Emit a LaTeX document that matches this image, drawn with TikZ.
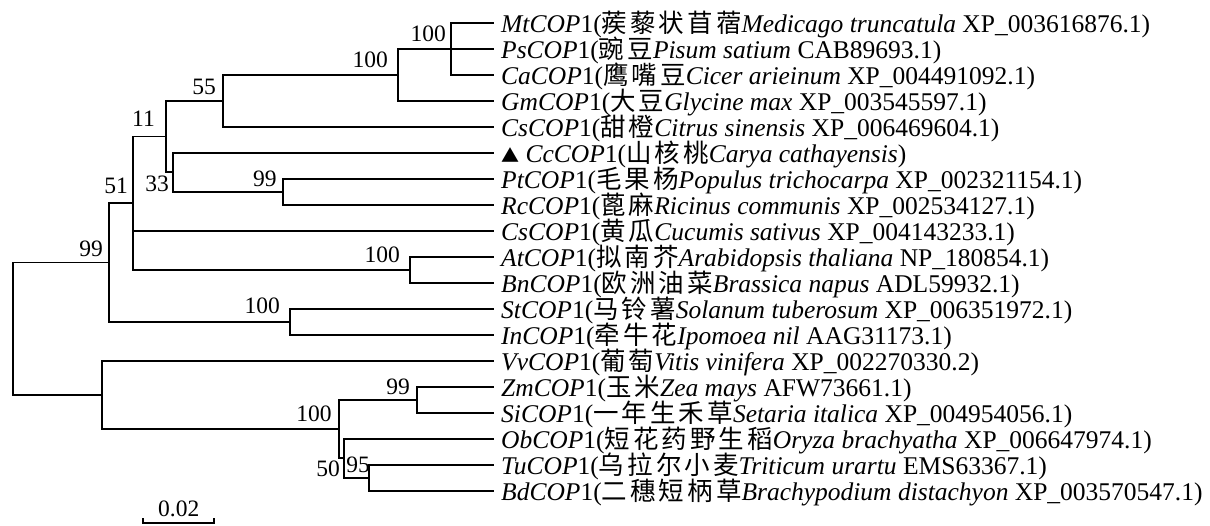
\documentclass[tikz,border=0pt]{standalone}
\usepackage{fontspec}
\setmainfont{Liberation Serif}
\newfontfamily\cjkfont[LetterSpace=12]{Noto Sans CJK SC}
\newcommand{\zh}[1]{{\cjkfont #1}}
\begin{document}
\begin{tikzpicture}[x=1pt,y=-1pt,
  br/.style={line width=1.7pt, line cap=rect},
  tiplab/.style={anchor=base west, inner sep=0pt, font=\fontsize{25.5}{28}\selectfont},
  boot/.style={anchor=base east, inner sep=0pt, font=\fontsize{23.5}{26}\selectfont}]
\useasboundingbox (0,0) rectangle (1210,526);
% tips
\def\TX{493}
\coordinate (tMt) at (\TX,22.7);
\coordinate (tPs) at (\TX,48.7);
\coordinate (tCa) at (\TX,74.7);
\coordinate (tGm) at (\TX,100.7);
\coordinate (tCs) at (\TX,126.7);
\coordinate (tCc) at (\TX,152.7);
\coordinate (tPt) at (\TX,178.7);
\coordinate (tRc) at (\TX,204.7);
\coordinate (tCu) at (\TX,230.7);
\coordinate (tAt) at (\TX,256.7);
\coordinate (tBn) at (\TX,282.7);
\coordinate (tSt) at (\TX,308.7);
\coordinate (tIn) at (\TX,334.7);
\coordinate (tVv) at (\TX,360.7);
\coordinate (tZm) at (\TX,386.7);
\coordinate (tSi) at (\TX,412.7);
\coordinate (tOb) at (\TX,438.7);
\coordinate (tTu) at (\TX,464.7);
\coordinate (tBd) at (\TX,490.7);
% internal nodes
\coordinate (n1) at (450.7,48.7);
\coordinate (n2) at (398.3,74.7);
\coordinate (n3) at (222.7,100.7);
\coordinate (n4) at (283.3,191.7);
\coordinate (n5) at (172.7,172.2);
\coordinate (n6) at (166,136.4);
\coordinate (n7) at (410,269.7);
\coordinate (n8) at (133.3,203);
\coordinate (n9) at (290,321.7);
\coordinate (n10) at (109,262.4);
\coordinate (n11) at (416.7,399.7);
\coordinate (n12) at (369,477.7);
\coordinate (n13) at (344.3,458.2);
\coordinate (n14) at (339.3,428.9);
\coordinate (n15) at (101.7,394.8);
\coordinate (root) at (12.7,328.6);
% branches
\draw[br] (n1) |- (tMt); \draw[br] (n1) -- (tPs); \draw[br] (n1) |- (tCa);
\draw[br] (n2) |- (n1); \draw[br] (n2) |- (tGm);
\draw[br] (n3) |- (n2); \draw[br] (n3) |- (tCs);
\draw[br] (n4) |- (tPt); \draw[br] (n4) |- (tRc);
\draw[br] (n5) |- (tCc); \draw[br] (n5) |- (n4);
\draw[br] (n6) |- (n3); \draw[br] (n6) |- (n5);
\draw[br] (n7) |- (tAt); \draw[br] (n7) |- (tBn);
\draw[br] (n8) |- (n6); \draw[br] (n8) |- (tCu); \draw[br] (n8) |- (n7);
\draw[br] (n9) |- (tSt); \draw[br] (n9) |- (tIn);
\draw[br] (n10) |- (n8); \draw[br] (n10) |- (n9);
\draw[br] (n11) |- (tZm); \draw[br] (n11) |- (tSi);
\draw[br] (n12) |- (tTu); \draw[br] (n12) |- (tBd);
\draw[br] (n13) |- (tOb); \draw[br] (n13) |- (n12);
\draw[br] (n14) |- (n11); \draw[br] (n14) |- (n13);
\draw[br] (n15) |- (tVv); \draw[br] (n15) |- (n14);
\draw[br] (root) |- (n10); \draw[br] (root) |- (n15);
% bootstrap values
\node[boot] (b1) at (446,41.7) {100};
\node[boot] (b2) at (388,68) {100};
\node[boot] (b3) at (216,95) {55};
\node[boot] (b6) at (155,127) {11};
\node[boot] (b5) at (169,191.7) {33};
\node[boot] (b4) at (276.7,186.7) {99};
\node[boot] (b8) at (128,194) {51};
\node[boot] (b10) at (103,256.7) {99};
\node[boot] (b7) at (400,263) {100};
\node[boot] (b9) at (280,314) {100};
\node[boot] (b11) at (410,395) {99};
\node[boot] (b14) at (331.7,421.7) {100};
\node[boot] (b13) at (340,476.7) {50};
\node[boot] (b12) at (370,472.7) {95};
% tip labels
\def\DY{9.5}
\node[tiplab] (lMt) at (501,22.7+\DY) {\textit{MtCOP}1(\zh{蒺藜状苜蓿}\textit{Medicago truncatula} XP\_003616876.1)};
\node[tiplab] (lPs) at (501,48.7+\DY) {\textit{PsCOP}1(\zh{豌豆}\textit{Pisum satium} CAB89693.1)};
\node[tiplab] (lCa) at (501,74.7+\DY) {\textit{CaCOP}1(\zh{鹰嘴豆}\textit{Cicer arieinum} XP\_004491092.1)};
\node[tiplab] (lGm) at (501,100.7+\DY) {\textit{GmCOP}1(\zh{大豆}\textit{Glycine max} XP\_003545597.1)};
\node[tiplab] (lCs) at (501,126.7+\DY) {\textit{CsCOP}1(\zh{甜橙}\textit{Citrus sinensis} XP\_006469604.1)};
\node[tiplab] (lCc) at (501,152.7+\DY) {{\cjkfont\fontsize{18}{20}\selectfont ▲} \textit{CcCOP}1(\zh{山核桃}\textit{Carya cathayensis})};
\node[tiplab] (lPt) at (501,178.7+\DY) {\textit{PtCOP}1(\zh{毛果杨}\textit{Populus trichocarpa} XP\_002321154.1)};
\node[tiplab] (lRc) at (501,204.7+\DY) {\textit{RcCOP}1(\zh{蓖麻}\textit{Ricinus communis} XP\_002534127.1)};
\node[tiplab] (lCu) at (501,230.7+\DY) {\textit{CsCOP}1(\zh{黄瓜}\textit{Cucumis sativus} XP\_004143233.1)};
\node[tiplab] (lAt) at (501,256.7+\DY) {\textit{AtCOP}1(\zh{拟南芥}\textit{Arabidopsis thaliana} NP\_180854.1)};
\node[tiplab] (lBn) at (501,282.7+\DY) {\textit{BnCOP}1(\zh{欧洲油菜}\textit{Brassica napus} ADL59932.1)};
\node[tiplab] (lSt) at (501,308.7+\DY) {\textit{StCOP}1(\zh{马铃薯}\textit{Solanum tuberosum} XP\_006351972.1)};
\node[tiplab] (lIn) at (501,334.7+\DY) {\textit{InCOP}1(\zh{牵牛花}\textit{Ipomoea nil} AAG31173.1)};
\node[tiplab] (lVv) at (501,360.7+\DY) {\textit{VvCOP}1(\zh{葡萄}\textit{Vitis vinifera} XP\_002270330.2)};
\node[tiplab] (lZm) at (501,386.7+\DY) {\textit{ZmCOP}1(\zh{玉米}\textit{Zea mays} AFW73661.1)};
\node[tiplab] (lSi) at (501,412.7+\DY) {\textit{SiCOP}1(\zh{一年生禾草}\textit{Setaria italica} XP\_004954056.1)};
\node[tiplab] (lOb) at (501,438.7+\DY) {\textit{ObCOP}1(\zh{短花药野生稻}\textit{Oryza brachyatha} XP\_006647974.1)};
\node[tiplab] (lTu) at (501,464.7+\DY) {\textit{TuCOP}1(\zh{乌拉尔小麦}\textit{Triticum urartu} EMS63367.1)};
\node[tiplab] (lBd) at (501,490.7+\DY) {\textit{BdCOP}1(\zh{二穗短柄草}\textit{Brachypodium distachyon} XP\_003570547.1)};
% scale bar
\coordinate (sbL) at (143.3,523.3);
\coordinate (sbR) at (214.3,523.3);
\draw[br,line cap=butt] ([yshift=5pt]sbL) -- (sbL) -- (sbR) -- ([yshift=5pt]sbR);
\node[anchor=base, inner sep=0pt, font=\fontsize{23.5}{26}\selectfont] (sblab) at (178.8,516) {0.02};
\end{tikzpicture}
\end{document}
